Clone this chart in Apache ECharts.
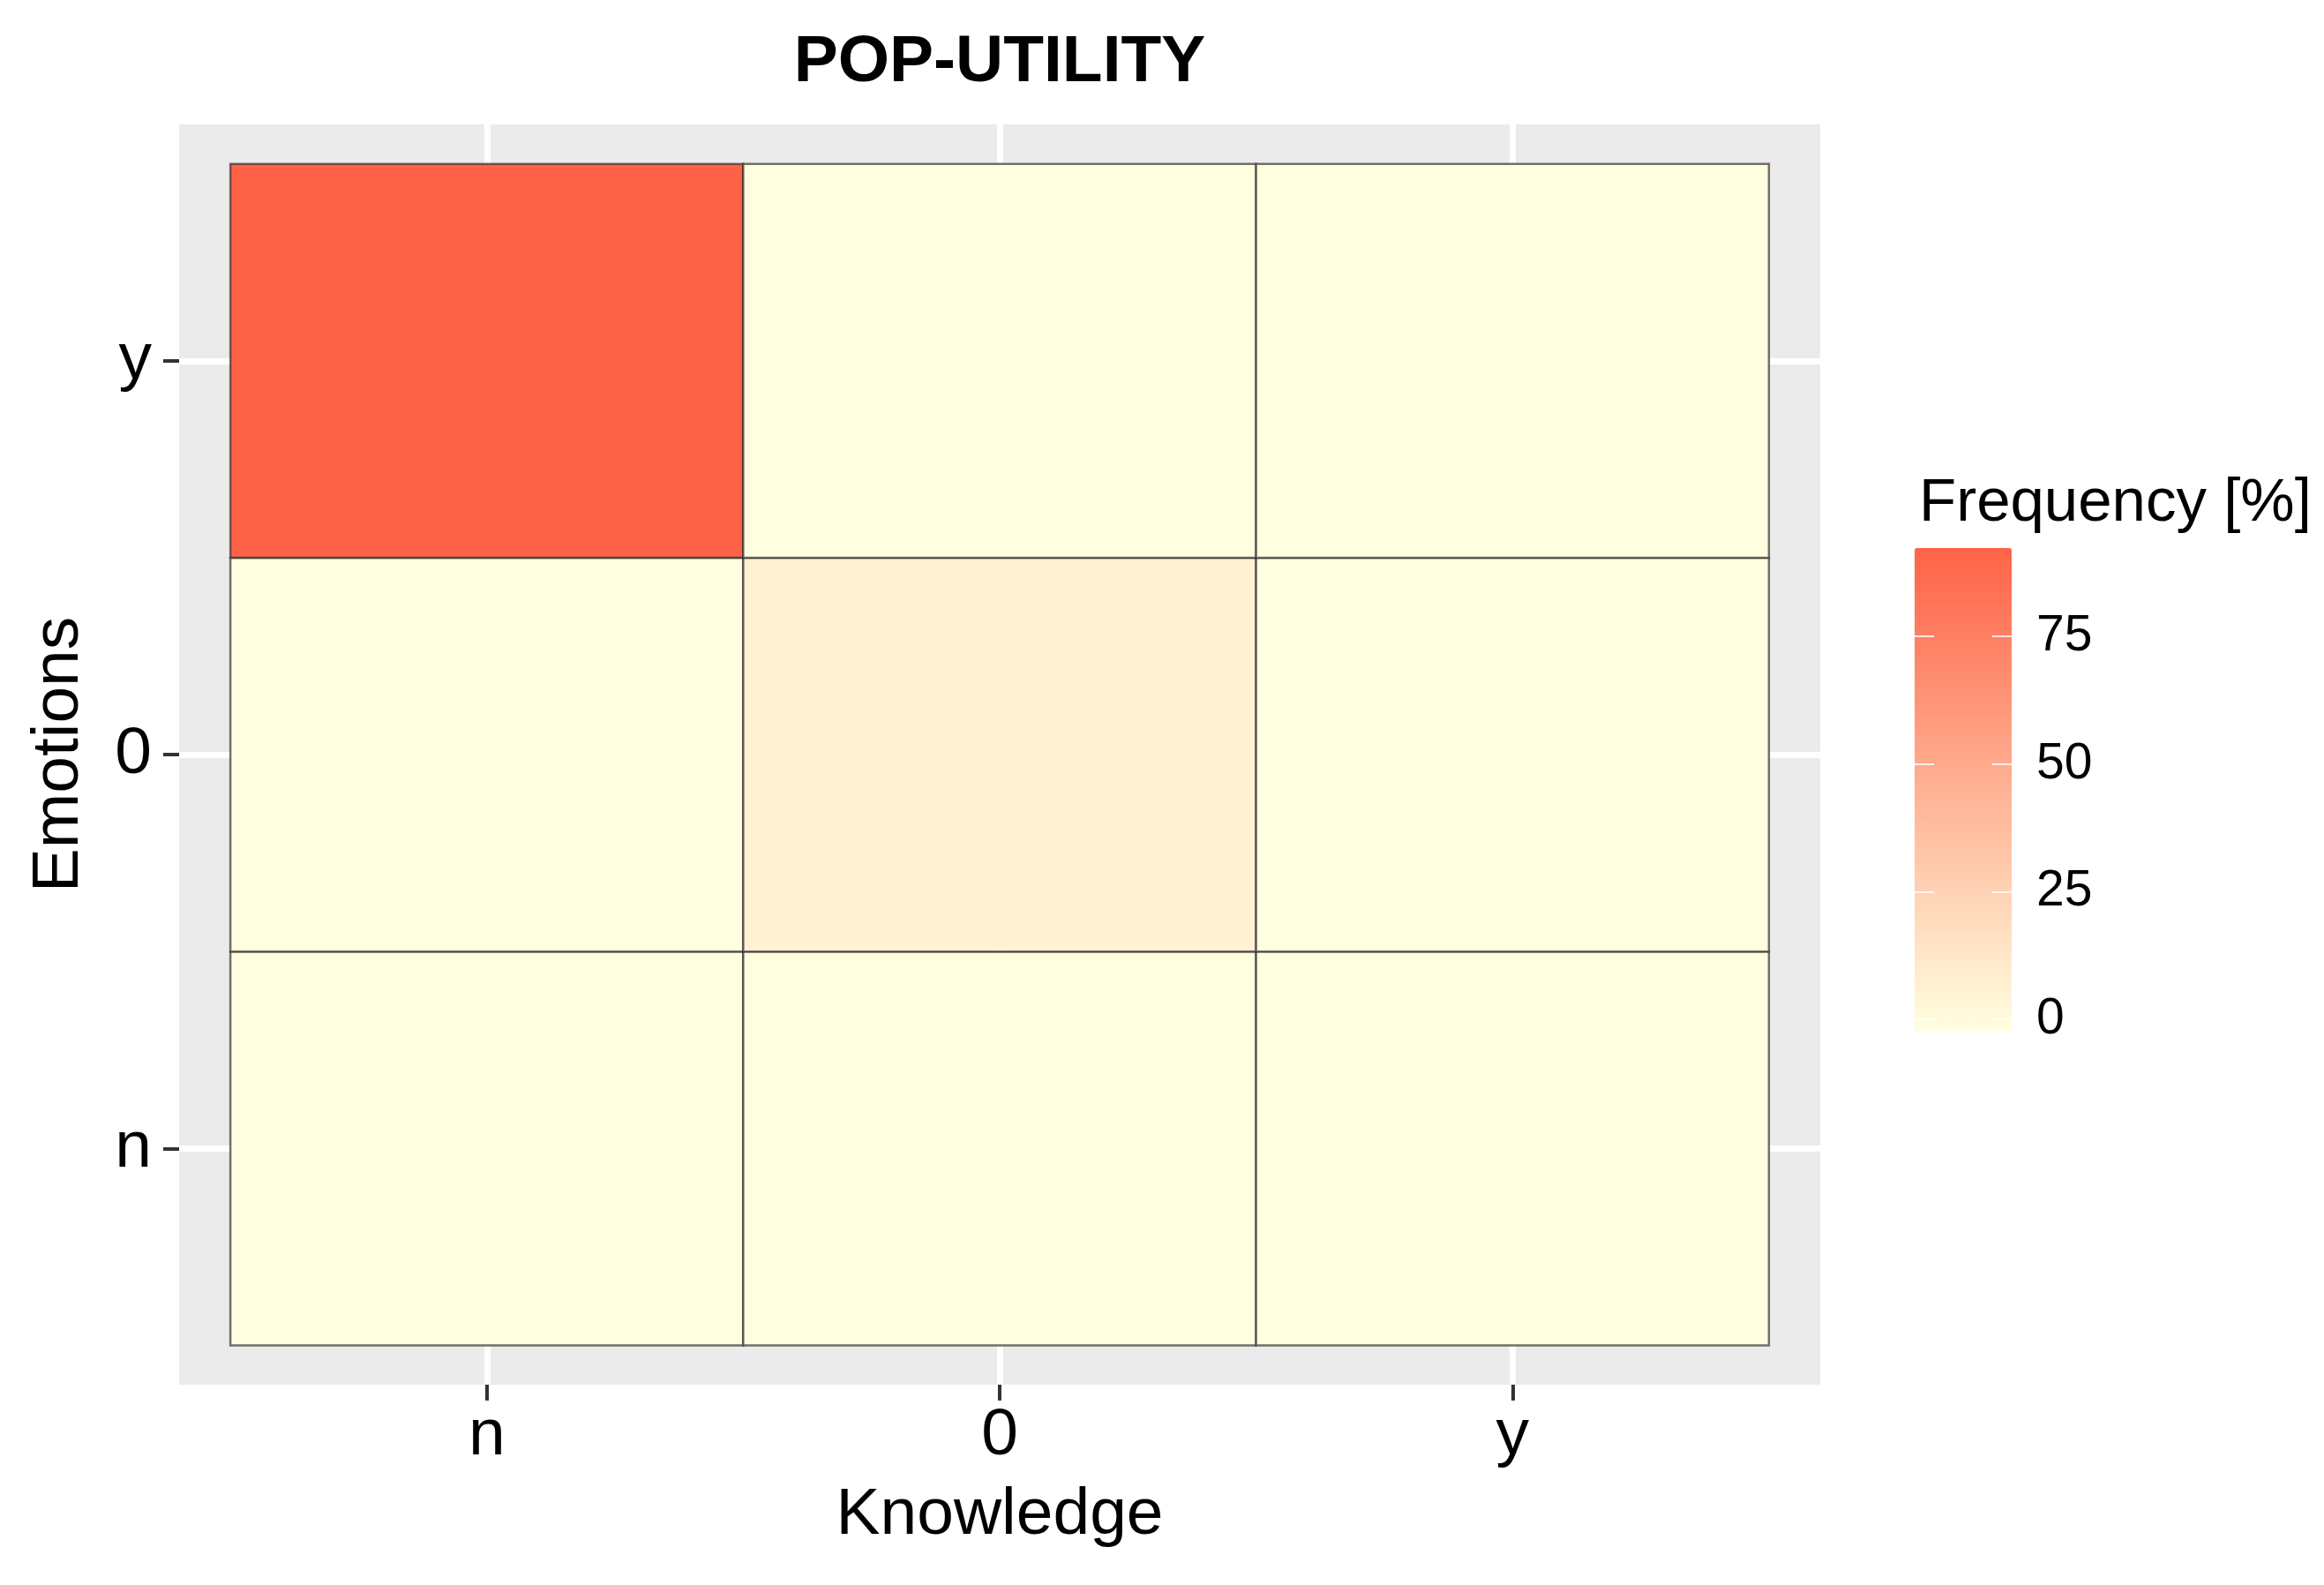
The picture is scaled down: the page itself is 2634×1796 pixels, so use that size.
<!DOCTYPE html>
<html>
<head>
<meta charset="utf-8">
<script src="https://cdn.jsdelivr.net/npm/echarts@6/dist/echarts.min.js"></script>
<style>
  html, body { margin: 0; padding: 0; background: #fff; }
  #chart { width: 2634px; height: 1796px; }
</style>
</head>
<body>
<div id="chart"></div>
<script>
// categories (bottom to top for emotions)
var knowledgeCats = ['n', '0', 'y'];
var emotionCats = ['n', '0', 'y'];

// frequency [%] per row of emotions, columns = knowledge n, 0, y
var rowN = [0.4, 0.3, 0.2];
var row0 = [0.6, 8.0, 0.3];
var rowY = [89.9, 0.3, 0.0];

var legendTicks = [0, 25, 50, 75];

var FONT = '"Liberation Sans", Arial, Helvetica, sans-serif';

// build [x, y, value] triples
var rows = [rowN, row0, rowY];
var cells = [];
for (var j = 0; j < rows.length; j++) {
    for (var i = 0; i < rows[j].length; i++) {
        cells.push([i, j, rows[j][i]]);
    }
}
var maxVal = Math.max.apply(null, cells.map(function (c) { return c[2]; }));
var minVal = Math.min.apply(null, cells.map(function (c) { return c[2]; }));

// show a label only on whole category positions
function catLabel(cats) {
    return function (v) {
        var k = Math.round(v);
        if (Math.abs(v - k) > 1e-6) return '';
        return cats[k] || '';
    };
}

var chart = echarts.init(document.getElementById('chart'));

var option = {
    backgroundColor: '#ffffff',
    animation: false,
    graphic: [
        {
            type: 'text', x: 1133, y: 71,
            style: {
                text: 'POP-UTILITY',
                font: 'bold 75px ' + FONT, fill: '#000',
                textAlign: 'center', textVerticalAlign: 'middle'
            }
        },
        {
            type: 'text', x: 2175, y: 571,
            style: {
                text: 'Frequency [%]',
                font: '69px ' + FONT, fill: '#000',
                textAlign: 'left', textVerticalAlign: 'middle'
            }
        }
    ],
    grid: [
        {
            left: 203, top: 141, width: 1860, height: 1428,
            show: true, backgroundColor: '#EBEBEB', borderWidth: 0
        },
        {
            // colour bar tick area (inset half a bin like ggplot)
            left: 2170, top: 635, width: 110, height: 520,
            show: false
        }
    ],
    xAxis: [
        {
            type: 'value', gridIndex: 0, min: -0.6, max: 2.6,
            name: 'Knowledge', nameLocation: 'middle', nameGap: 111,
            nameTextStyle: { fontFamily: FONT, fontSize: 75, color: '#000' },
            axisLine: { show: false, onZero: false },
            axisTick: { show: true, length: 18, customValues: [0, 1, 2],
                lineStyle: { color: '#333', width: 4 } },
            axisLabel: {
                margin: 21,
                fontFamily: FONT, fontSize: 75, color: '#000',
                formatter: catLabel(knowledgeCats)
            },
            splitLine: { show: true, lineStyle: { color: '#ffffff', width: 7 } }
        },
        {
            type: 'value', gridIndex: 1, min: 0, max: 1, show: false,
            axisLine: { onZero: false }
        }
    ],
    yAxis: [
        {
            type: 'value', gridIndex: 0, min: -0.6, max: 2.6,
            name: 'Emotions', nameLocation: 'middle', nameGap: 98, nameRotate: 90,
            nameTextStyle: { fontFamily: FONT, fontSize: 75, color: '#000' },
            axisLine: { show: false, onZero: false },
            axisTick: { show: true, length: 18, customValues: [0, 1, 2],
                lineStyle: { color: '#333', width: 4 } },
            axisLabel: {
                margin: 31,
                fontFamily: FONT, fontSize: 75, color: '#000',
                formatter: catLabel(emotionCats)
            },
            splitLine: { show: true, lineStyle: { color: '#ffffff', width: 7 } }
        },
        {
            type: 'value', gridIndex: 1, min: minVal, max: maxVal, interval: 25,
            position: 'right', z: 20,
            axisLine: { show: false, onZero: false },
            axisTick: { show: true, inside: true, length: 22, customValues: legendTicks,
                lineStyle: { color: '#ffffff', width: 2, opacity: 0.8 } },
            axisLabel: { margin: 28, fontFamily: FONT, fontSize: 57, color: '#000',
                showMaxLabel: false },
            splitLine: { show: false }
        },
        {
            type: 'value', gridIndex: 1, min: minVal, max: maxVal, interval: 25,
            position: 'left', z: 20,
            axisLine: { show: false, onZero: false },
            axisTick: { show: true, inside: true, length: 22, customValues: legendTicks,
                lineStyle: { color: '#ffffff', width: 2, opacity: 0.8 } },
            axisLabel: { show: false },
            splitLine: { show: false }
        }
    ],
    visualMap: {
        type: 'continuous',
        seriesIndex: 0, dimension: 2,
        min: minVal, max: maxVal,
        calculable: false, hoverLink: false,
        orient: 'vertical',
        left: 2170, top: 621, itemWidth: 110, itemHeight: 547,
        padding: 0,
        inRange: { color: ['#FFFFE0', '#FF6347'] }
    },
    series: [
        {
            type: 'custom',
            xAxisIndex: 0, yAxisIndex: 0,
            data: cells,
            encode: { x: 0, y: 1 },
            renderItem: function (params, api) {
                var x = api.value(0), y = api.value(1);
                var p0 = api.coord([x - 0.5, y + 0.5]);
                var p1 = api.coord([x + 0.5, y - 0.5]);
                return {
                    type: 'rect',
                    shape: { x: p0[0], y: p0[1], width: p1[0] - p0[0], height: p1[1] - p0[1] },
                    style: {
                        fill: api.visual('color'),
                        stroke: 'rgba(40,40,40,0.65)',
                        lineWidth: 2.5
                    }
                };
            }
        }
    ]
};

chart.setOption(option);
</script>
</body>
</html>
